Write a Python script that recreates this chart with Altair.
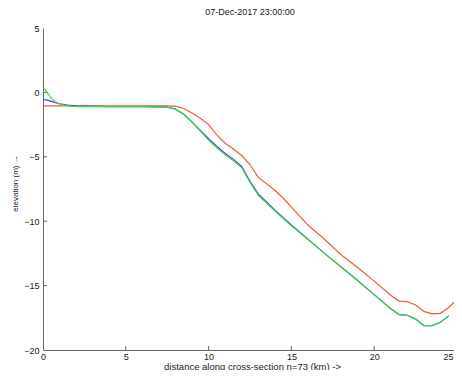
import altair as alt
import pandas as pd

title_text = "07-Dec-2017 23:00:00"
x_title = "distance along cross-section n=73 (km)  ->"
y_title = "elevation (m) \u2192"

x_ticks = [0, 5, 10, 15, 20, 25]
y_ticks = [5, 0, -5, -10, -15, -20]

x_red = [0, 1, 2, 3, 4, 5, 6, 7, 7.5, 8, 8.5, 9, 9.5, 10, 10.5, 11, 11.5, 12, 12.5, 13,
         13.5, 14, 14.5, 15, 15.5, 16, 17, 18, 19, 20, 21, 21.5, 22, 22.5, 23, 23.5, 24, 24.5, 24.9]
red = [-1.05, -1.05, -1.05, -1.05, -1.05, -1.05, -1.05, -1.05, -1.05, -1.07, -1.25, -1.6, -2.0, -2.5,
       -3.3, -3.95, -4.4, -4.9, -5.6, -6.6, -7.1, -7.6, -8.2, -8.9, -9.6, -10.3, -11.4, -12.6,
       -13.6, -14.65, -15.75, -16.2, -16.25, -16.5, -17.0, -17.2, -17.15, -16.7, -16.2]

x_bg = [0, 0.25, 0.5, 0.75, 1, 1.5, 2, 3, 4, 5, 6, 7, 7.5, 8, 8.5, 9, 9.5, 10, 10.5, 11, 11.5, 12,
        12.5, 13, 13.5, 14, 15, 16, 17, 18, 19, 20, 21, 21.5, 22, 22.5, 23, 23.5, 24, 24.5]
blue = [-0.55, -0.6, -0.7, -0.8, -0.88, -0.98, -1.05, -1.08, -1.1, -1.1, -1.1, -1.12, -1.15, -1.3,
        -1.7, -2.3, -2.95, -3.6, -4.2, -4.75, -5.2, -5.75, -6.9, -7.9, -8.5, -9.15, -10.3, -11.4,
        -12.5, -13.55, -14.6, -15.7, -16.8, -17.25, -17.3, -17.6, -18.1, -18.1, -17.85, -17.35]
green = [0.4, 0.0, -0.45, -0.75, -0.9, -1.05, -1.1, -1.1, -1.1, -1.1, -1.1, -1.12, -1.15, -1.3,
         -1.7, -2.3, -3.0, -3.7, -4.3, -4.85, -5.3, -5.85, -7.0, -8.0, -8.6, -9.2, -10.35, -11.4,
         -12.5, -13.55, -14.6, -15.7, -16.8, -17.25, -17.3, -17.6, -18.1, -18.1, -17.85, -17.35]

W, H = 414, 322

df_red = pd.DataFrame({"x": x_red, "y": red})
df_blue = pd.DataFrame({"x": x_bg, "y": blue})
df_green = pd.DataFrame({"x": x_bg, "y": green})

xs = alt.Scale(domain=[0, 25], nice=False, zero=False)
ys = alt.Scale(domain=[-20, 5], nice=False, zero=False)

xaxis = alt.Axis(values=x_ticks, title=x_title, tickSize=0, labelPadding=2,
                 labelAlign=alt.expr("datum.value == 25 ? 'right' : 'center'"),
                 labelOffset=alt.expr("datum.value == 25 ? -4 : 0"),
                 titleX=209, titleY=19, titleBaseline="alphabetic", titleAlign="center",
                 titleFontWeight="normal",
                 domainColor="#666666", labelColor="#222222", titleColor="#222222",
                 labelFontSize=9, titleFontSize=9.5, grid=False, labelFlush=False)
yaxis = alt.Axis(values=y_ticks, title=y_title, tickSize=0, labelPadding=4,
                 titleX=-28, titleY=155, titleAngle=-90, titleBaseline="middle",
                 titleAlign="center", titleFontWeight="normal",
                 domainColor="#666666", labelColor="#222222", titleColor="#222222",
                 labelFontSize=9, titleFontSize=8, grid=False, labelFlush=False)


def line(df, color):
    return alt.Chart(df).mark_line(color=color, strokeWidth=1.2).encode(
        x=alt.X("x:Q", scale=xs, axis=xaxis),
        y=alt.Y("y:Q", scale=ys, axis=yaxis),
        order="x:Q",
    )


xt = pd.DataFrame({"t": x_ticks[1:]})
yt = pd.DataFrame({"t": y_ticks[1:-1]})
xtick_layer = alt.Chart(xt).mark_rule(color="#666666").encode(
    x=alt.X("t:Q", scale=xs, axis=xaxis), y=alt.value(H), y2=alt.value(H - 4))
ytick_layer = alt.Chart(yt).mark_rule(color="#666666").encode(
    y=alt.Y("t:Q", scale=ys, axis=yaxis), x=alt.value(0), x2=alt.value(4))

chart = alt.layer(
    xtick_layer, ytick_layer,
    line(df_red, "#ee5a3a"),
    line(df_blue, "#3a3aee"),
    line(df_green, "#3ade3a"),
).properties(
    width=W, height=H,
    title=alt.Title(title_text, fontSize=9, fontWeight="normal", color="#222222",
                    anchor="middle", offset=7),
    autosize="none",
    padding={"left": 35, "top": 20, "right": -3, "bottom": 20},
).configure(font="Liberation Sans").configure_view(stroke=None)

chart.save("out.html", embed_options={"renderer": "svg", "actions": False})
